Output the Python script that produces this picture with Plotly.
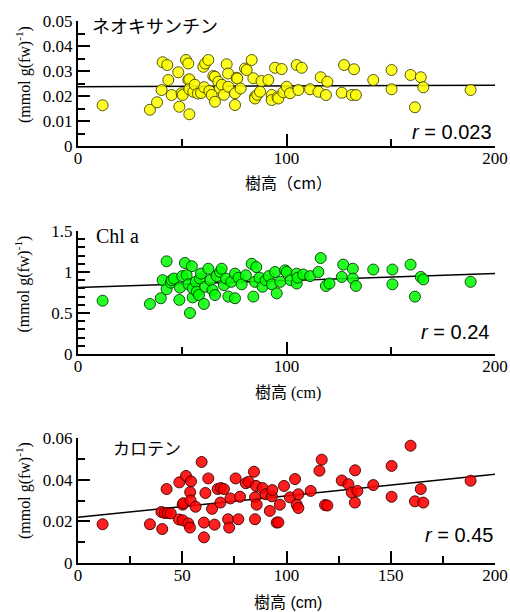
import plotly.graph_objects as go

# ---- data ----
x_neo = [11.8, 34.5, 37.9, 40.6, 42.8, 40.1, 43.3, 44.9, 48.6, 48.1, 49.7, 50.2, 51.8, 52.9, 53.4,
         52.9, 53.4, 53.4, 55.3, 56.0, 57.5, 59.0, 60.1, 60.5, 61.0, 62.5, 63.0, 64.1, 64.9, 65.7,
         65.7, 67.3, 68.1, 69.0, 70.0, 71.3, 72.0, 72.1, 75.3, 75.3, 76.1, 76.4, 78.0, 80.1, 80.9,
         83.3, 84.1, 84.9, 84.9, 86.0, 87.3, 88.0, 91.3, 92.9, 92.9, 94.5, 95.7, 96.1, 97.7, 98.5,
         100.1, 101.7, 104.9, 105.7, 107.3, 111.3, 115.3, 116.4, 118.9, 119.6, 126.5, 127.6, 131.3,
         132.4, 133.3, 141.6, 150.4, 150.4, 159.5, 161.6, 164.4, 165.6, 188.3]
y_neo = [0.0163, 0.0145, 0.0175, 0.0335, 0.0324, 0.0224, 0.0264, 0.0204, 0.0157, 0.0295, 0.0211,
         0.0204, 0.0344, 0.0330, 0.0127, 0.0264, 0.0267, 0.0227, 0.0217, 0.0245, 0.0210, 0.0212,
         0.0317, 0.0235, 0.0330, 0.0344, 0.0220, 0.0204, 0.0280, 0.0277, 0.0177, 0.0257, 0.0231,
         0.0245, 0.0205, 0.0327, 0.0290, 0.0237, 0.0211, 0.0164, 0.0273, 0.0270, 0.0230, 0.0310,
         0.0304, 0.0344, 0.0271, 0.0197, 0.0190, 0.0205, 0.0217, 0.0260, 0.0264, 0.0204, 0.0184,
         0.0313, 0.0195, 0.0190, 0.0308, 0.0215, 0.0237, 0.0211, 0.0324, 0.0224, 0.0313, 0.0227,
         0.0217, 0.0275, 0.0204, 0.0257, 0.0213, 0.0324, 0.0204, 0.0307, 0.0204, 0.0264, 0.0304,
         0.0227, 0.0284, 0.0155, 0.0275, 0.0235, 0.0224]

x_chl = [11.8, 34.5, 39.7, 42.5, 40.6, 42.5, 44.5, 44.9, 46.0, 48.6, 48.9, 50.0, 51.3, 53.7, 54.6,
         52.1, 53.0, 55.0, 55.0, 56.5, 57.0, 58.0, 58.5, 59.0, 60.4, 61.0, 62.5, 63.5, 64.5, 65.7,
         66.5, 68.1, 68.9, 70.0, 71.0, 72.1, 73.5, 75.3, 75.3, 77.0, 78.5, 80.5, 83.3, 84.1, 84.9,
         85.5, 87.0, 88.5, 90.0, 91.5, 93.0, 94.5, 95.3, 97.0, 99.3, 100.1, 102.0, 104.9, 104.9,
         105.3, 108.0, 111.3, 115.3, 116.4, 118.9, 120.6, 126.5, 127.2, 131.8, 131.8, 133.3, 141.6,
         150.8, 150.8, 159.5, 161.6, 164.4, 165.6, 188.3]
y_chl = [0.65, 0.61, 0.68, 1.13, 0.90, 0.79, 0.87, 0.90, 0.92, 0.66, 0.81, 0.95, 1.11, 0.50, 1.07,
         0.96, 0.85, 0.69, 0.80, 0.88, 0.76, 0.72, 0.92, 0.98, 0.61, 0.82, 1.04, 0.90, 0.78, 0.72,
         0.95, 1.00, 1.04, 0.84, 0.92, 0.70, 0.88, 0.68, 0.98, 0.93, 0.85, 0.96, 1.10, 0.70, 0.88,
         1.06, 0.93, 0.82, 0.90, 0.95, 0.85, 1.00, 0.74, 0.88, 1.02, 1.00, 0.90, 0.98, 0.86,
         0.93, 0.97, 0.95, 1.00, 1.17, 0.83, 0.86, 0.94, 1.09, 1.04, 0.92, 0.83, 1.03,
         1.03, 0.85, 1.09, 0.70, 0.94, 0.91, 0.88]

x_car = [11.8, 34.5, 40.4, 42.5, 40.0, 41.5, 43.0, 44.5, 48.6, 51.8, 54.2, 48.4, 50.2, 50.5, 50.2,
         52.9, 53.7, 53.8, 54.0, 56.4, 59.3, 60.4, 60.4, 61.1, 62.5, 64.3, 65.5, 67.0, 68.3, 68.5,
         70.0, 72.0, 72.5, 73.1, 75.6, 76.9, 77.7, 80.5, 81.8, 84.4, 84.9, 84.9, 85.4, 85.7, 88.5,
         90.0, 92.0, 93.0, 93.2, 95.3, 96.1, 96.8, 98.8, 101.6, 104.1, 104.9, 105.7, 105.7, 111.6,
         115.8, 116.9, 118.5, 119.6, 126.5, 129.7, 131.3, 132.8, 132.9, 134.0, 141.6, 150.4, 150.4,
         159.5, 161.6, 164.4, 165.6, 188.3]
y_car = [0.0186, 0.0186, 0.0163, 0.0355, 0.0245, 0.0240, 0.0240, 0.0238, 0.0387, 0.0418, 0.0392,
         0.0209, 0.0280, 0.0287, 0.0205, 0.0190, 0.0170, 0.0340, 0.0300, 0.0270, 0.0485, 0.0194,
         0.0123, 0.0336, 0.0406, 0.0260, 0.0184, 0.0355, 0.0290, 0.0360, 0.0355, 0.0210, 0.0170,
         0.0310, 0.0406, 0.0210, 0.0318, 0.0383, 0.0390, 0.0438, 0.0315, 0.0210, 0.0370, 0.0280,
         0.0360, 0.0330, 0.0250, 0.0320, 0.0350, 0.0194, 0.0195, 0.0280, 0.0370, 0.0315, 0.0403,
         0.0280, 0.0330, 0.0264, 0.0346, 0.0443, 0.0496, 0.0278, 0.0276, 0.0396, 0.0378, 0.0338,
         0.0290, 0.0445, 0.0346, 0.0374, 0.0466, 0.0318, 0.0563, 0.0296, 0.0355, 0.0290, 0.0395]

# regression lines: intercept, slope
fit_neo = (0.0237, 0.000003)
fit_chl = (0.81, 0.000855)
fit_car = (0.0219, 0.0001035)
fit_x = [0, 200]

labels = ["ネオキサンチン", "Chl a", "カロテン"]
r_texts = ["<i>r</i> = 0.023", "<i>r</i> = 0.24", "<i>r</i> = 0.45"]

W, H = 510, 612
def px(x): return x / W
def py(y): return 1 - y / H

fig = go.Figure()

panels = [
    (x_neo, y_neo, fit_neo, "rgba(255,255,0,0.85)", "rgba(70,70,0,0.9)", ""),
    (x_chl, y_chl, fit_chl, "rgba(0,255,0,0.85)", "rgba(0,60,0,0.9)", "2"),
    (x_car, y_car, fit_car, "rgba(255,0,0,0.88)", "rgba(60,0,0,0.9)", "3"),
]
for xs, ys, fit, fc, lc, sfx in panels:
    a, b = fit
    fig.add_trace(go.Scatter(x=fit_x, y=[a + b * v for v in fit_x], mode="lines",
                             line=dict(color="black", width=1.5),
                             xaxis="x" + sfx, yaxis="y" + sfx, showlegend=False,
                             hoverinfo="skip"))
    fig.add_trace(go.Scatter(x=xs, y=ys, mode="markers",
                             marker=dict(size=11, color=fc, line=dict(color=lc, width=1)),
                             xaxis="x" + sfx, yaxis="y" + sfx, showlegend=False,
                             cliponaxis=False))

serif = "Liberation Serif"

def axis_common(dtick, minor_dtick):
    return dict(showline=True, linewidth=2, linecolor="black", automargin=False,
                ticks="inside", ticklen=12, tickwidth=1.5, tickcolor="black",
                dtick=dtick, tick0=0, showgrid=False, zeroline=False,
                tickfont=dict(family=serif, size=17, color="black"),
                minor=dict(ticks="inside", ticklen=7, dtick=minor_dtick, tick0=0,
                           tickwidth=1.5, tickcolor="black", showgrid=False))

def xaxis(anchor, dtick, minor_dtick):
    d = axis_common(dtick, minor_dtick)
    d.update(domain=[px(78), px(495)], anchor=anchor, range=[0, 200], ticklabelstandoff=-4)
    return d

def yaxis(anchor, top_px, bot_px, rng, dtick, minor_dtick):
    d = axis_common(dtick, minor_dtick)
    d.update(domain=[py(bot_px), py(top_px)], anchor=anchor, range=rng)
    return d

fig.update_layout(
    template="none",
    width=W, height=H, margin=dict(l=0, r=0, t=0, b=0, pad=0),
    autosize=False,
    font=dict(family=serif, size=17, color="black"),
    paper_bgcolor="white", plot_bgcolor="white",
    xaxis=xaxis("y", 100, 50),
    yaxis=yaxis("x", 21, 146, [0, 0.05], 0.01, 0.005),
    xaxis2=xaxis("y2", 100, 50),
    yaxis2=yaxis("x2", 231, 354, [0, 1.5], 0.5, 0.1),
    xaxis3=xaxis("y3", 50, 25),
    yaxis3=yaxis("x3", 438, 563, [0, 0.06], 0.02, 0.01),
)

def note(x, y, text, font, xanchor="center", **kw):
    d = dict(x=px(x), y=py(y), xref="paper", yref="paper", text=text, showarrow=False,
             xanchor=xanchor, yanchor="middle", font=font)
    d.update(kw)
    return d

ann = []
ytitle = "(mmol g(fw)<sup>-1</sup>)"
for cy in [75, 284.5, 491]:
    ann.append(note(23, cy, ytitle, dict(family=serif, size=16, color="black"), textangle=-90))

cjk = "Noto Sans CJK JP"
ann.append(note(288, 182, "樹高（cm）", dict(family=cjk, size=16, color="black")))
ann.append(note(288, 393, "樹高 (cm)", dict(family=serif + ", " + cjk, size=16, color="black")))
ann.append(note(288, 602, "樹高 (cm)", dict(family="Liberation Sans, " + cjk, size=16, color="black")))

ann.append(note(90, 25, labels[0], dict(family=cjk, size=18, color="black"), xanchor="left"))
ann.append(note(94, 236, labels[1], dict(family=serif, size=20, color="black"), xanchor="left"))
ann.append(note(111, 448, labels[2], dict(family=cjk, size=17, color="black"), xanchor="left"))

for txt, (rx, ry) in zip(r_texts, [(494, 132), (491, 332), (495, 535)]):
    ann.append(note(rx, ry, txt, dict(family="Liberation Sans", size=20, color="black"),
                    xanchor="right"))

fig.update_layout(annotations=ann)
fig.write_html("out.html")
